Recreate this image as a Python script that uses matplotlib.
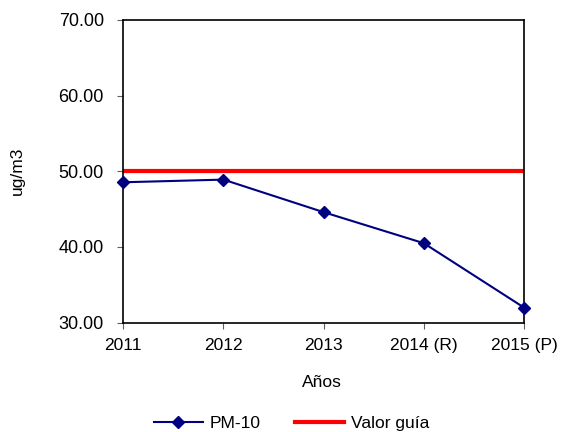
import matplotlib
matplotlib.use("Agg")
import matplotlib.pyplot as plt

anios = ["2011", "2012", "2013", "2014 (R)", "2015 (P)"]
pm10 = [48.55, 48.9, 44.6, 40.5, 32.0]
valor_guia = 50.0

plt.rcParams.update({"font.family": "Liberation Sans", "font.size": 12.5})

fig = plt.figure(figsize=(5.62, 4.32), dpi=100)
ax = fig.add_axes([0.2194, 0.253, 0.713, 0.701])

x = list(range(len(anios)))
ax.plot(x, pm10, color="#000080", linewidth=1.5, marker="D", markersize=6.5,
        label="PM-10", zorder=3, clip_on=False)
ax.axhline(valor_guia, color="#ff0000", linewidth=3, label="Valor guía", zorder=2)

ax.set_xlim(0, len(anios) - 1)
ax.set_ylim(30, 70)
ax.set_yticks([30, 40, 50, 60, 70])
ax.set_yticklabels([f"{v:.2f}" for v in [30, 40, 50, 60, 70]], fontsize=13)
ax.set_xticks(x)
ax.set_xticklabels(anios)
ax.tick_params(direction="out", length=4, width=0.8, color="#606060")
ax.tick_params(axis="y", pad=10)
ax.tick_params(axis="x", pad=7)
for s in ax.spines.values():
    s.set_linewidth(1.2)
    s.set_color("black")

ax.set_xlabel("Años", va="center")
ax.xaxis.set_label_coords(0.495, -0.199)
ax.set_ylabel("ug/m3", va="center")
ax.yaxis.set_label_coords(-0.265, 0.5)

fig.legend(*ax.get_legend_handles_labels(), loc="center",
           bbox_to_anchor=(0.519, 0.02), ncol=2, frameon=False,
           handlelength=2.8, columnspacing=2.0, handletextpad=0.4,
           borderpad=0)

fig.savefig("out.png", facecolor="white")
